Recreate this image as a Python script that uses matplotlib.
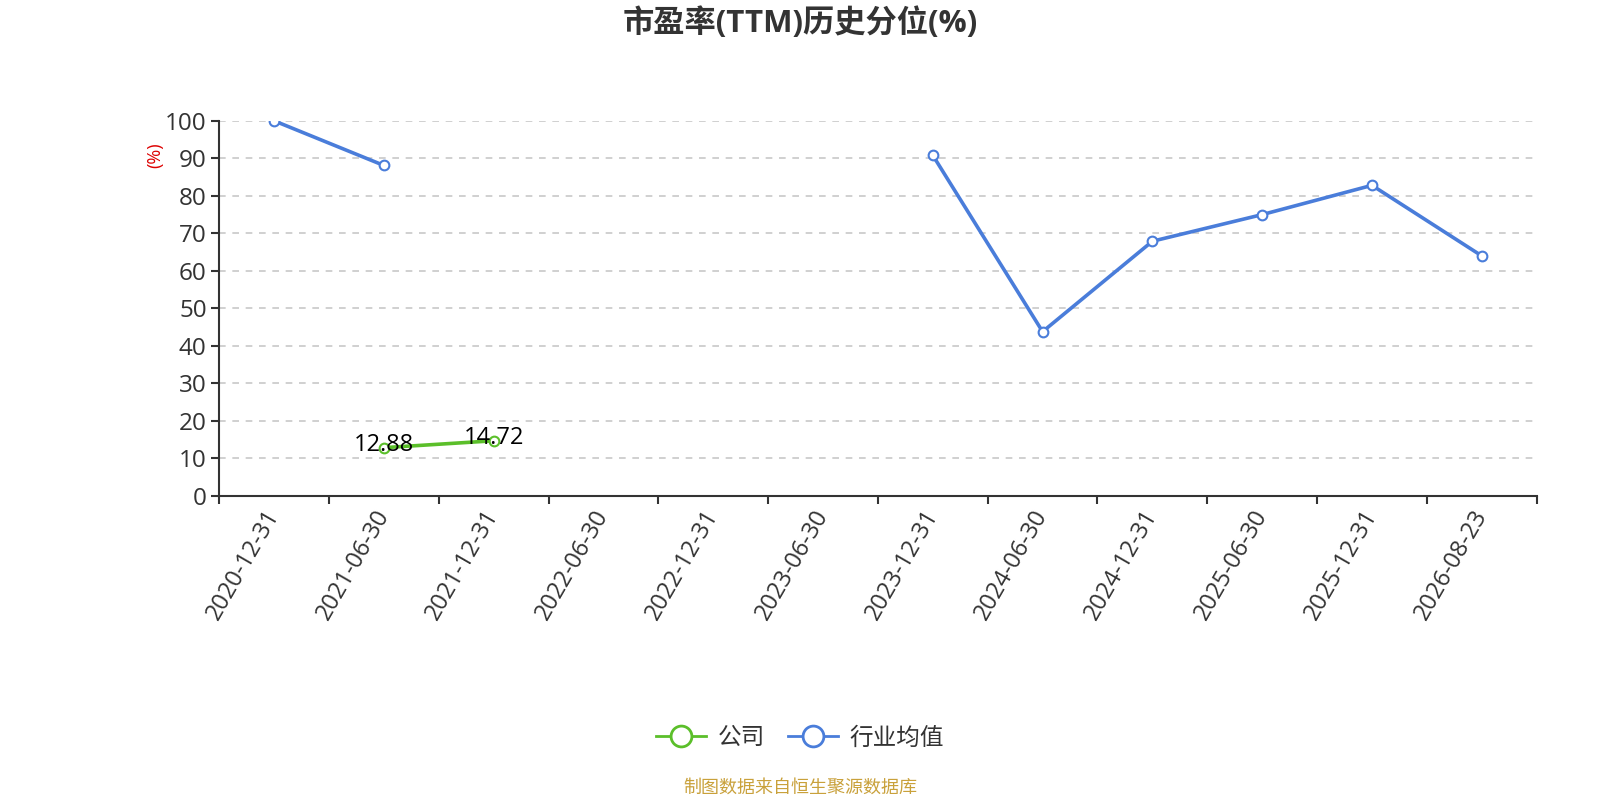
import numpy as np
import matplotlib
matplotlib.use('Agg')
import matplotlib.pyplot as plt
from matplotlib.lines import Line2D
from matplotlib.ticker import MultipleLocator

plt.rcParams['font.family'] = ['Open Sans', 'Noto Sans CJK SC', 'DejaVu Sans']

# data
dates = ['2020-12-31', '2021-06-30', '2021-12-31', '2022-06-30', '2022-12-31', '2023-06-30',
         '2023-12-31', '2024-06-30', '2024-12-31', '2025-06-30', '2025-12-31', '2026-08-23']
company = [np.nan, 12.88, 14.72, np.nan, np.nan, np.nan,
           np.nan, np.nan, np.nan, np.nan, np.nan, np.nan]
industry = [100.0, 88.1, np.nan, np.nan, np.nan, np.nan,
            90.8, 43.8, 67.9, 75.0, 82.8, 64.0]
series_names = ['公司', '行业均值']

green = '#5bbf2a'
blue = '#4a7dda'
dark = '#333333'

fig = plt.figure(figsize=(16, 8), dpi=100)
ax = fig.add_axes([0.137, 0.38, 0.8234, 0.469])

x = np.arange(len(dates))
ax.plot(x, industry, color=blue, lw=2.6, marker='o', ms=7, mfc='white',
        mec=blue, mew=1.5, zorder=3)
ax.plot(x, company, color=green, lw=2.6, marker='o', ms=7, mfc='white',
        mec=green, mew=1.5, zorder=3)

# value labels on company series
for xi, v in zip(x, company):
    if not np.isnan(v):
        ax.annotate(f'{v:.2f}', (xi, v), xytext=(0, 2), textcoords='offset points',
                    ha='center', va='center', fontsize=17, color='black', zorder=4)

ax.set_xlim(-0.5, len(dates) - 0.5)
ax.set_ylim(0, 100)
ax.yaxis.set_major_locator(MultipleLocator(10))
ax.grid(axis='y', color='#c8c8c8', ls=(0, (4, 4)), lw=1.2)
ax.set_axisbelow(True)

for s in ['top', 'right']:
    ax.spines[s].set_visible(False)
for s in ['left', 'bottom']:
    ax.spines[s].set_color(dark)
    ax.spines[s].set_linewidth(1.5)

ax.set_xticks(x)
ax.set_xticklabels(dates, rotation=60, ha='right', va='center', rotation_mode='anchor')
ax.set_xticks(np.arange(-0.5, len(dates)), minor=True)
ax.tick_params(axis='x', which='major', length=0, pad=11, labelsize=17, labelcolor=dark)
ax.tick_params(axis='x', which='minor', length=6, width=1.5, color=dark)
ax.tick_params(axis='y', length=6, width=1.5, color=dark, labelsize=17.5, labelcolor=dark, pad=3)

fig.text(0.097, 0.806, '(%)', rotation=90, color='#dd0000', fontsize=13,
         ha='center', va='center')

fig.text(0.5, 0.971, '市盈率(TTM)历史分位(%)', ha='center', va='center',
         fontsize=22.5, fontweight='bold', color=dark)

handles = [Line2D([], [], color=c, lw=2, marker='o', ms=15, mfc='white', mec=c, mew=2)
           for c in (green, blue)]
fig.legend(handles, series_names, loc='center', bbox_to_anchor=(0.5, 0.077), ncol=2,
           frameon=False, fontsize=17, handlelength=2.1, columnspacing=1.0,
           handletextpad=0.5, labelcolor=dark)

fig.text(0.5, 0.015, '制图数据来自恒生聚源数据库', ha='center', va='center',
         fontsize=13, color='#c9a13b')

fig.savefig('out.png', dpi=100)
